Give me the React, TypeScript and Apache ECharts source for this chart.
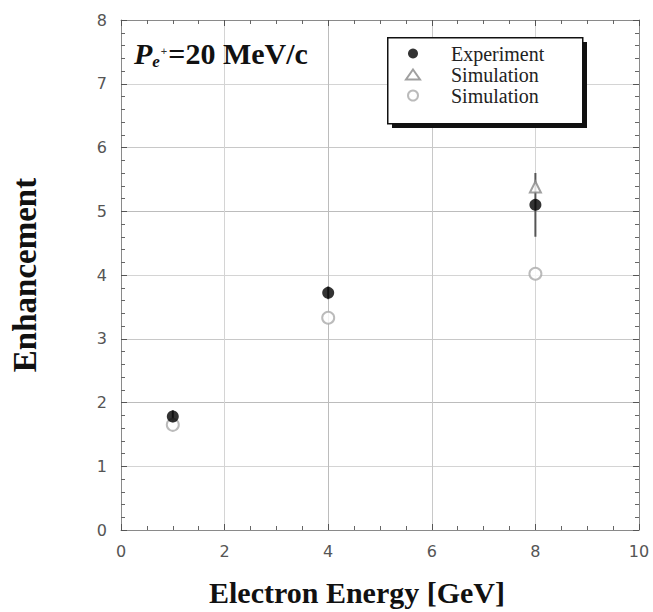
import React, { useEffect, useRef } from "react";
import * as echarts from "echarts";

const xTicks = [0, 2, 4, 6, 8, 10];
const energies = [1, 4, 8];
const experiment = [1.78, 3.72, 5.1];
const experimentErr = [0.1, 0.1, 0.5];
const triangleX = [8];
const triangleY = [5.38];
const circleSim = [1.65, 3.33, 4.02];

const SERIF = "'Liberation Serif', 'Times New Roman', serif";
const SANS = "'DejaVu Sans', Verdana, sans-serif";

export default function App() {
  const ref = useRef<HTMLDivElement>(null);
  useEffect(() => {
    if (!ref.current) return;
    const chart = echarts.init(ref.current, undefined, { renderer: "svg" });
    const errData = energies.map((x, i) => [x, experiment[i] - experimentErr[i], experiment[i] + experimentErr[i]]);
    const axisCommon = {
      type: "value" as const,
      axisLine: { show: true, onZero: false, lineStyle: { color: "#8a8a8a", width: 1 } },
      axisTick: { show: true, inside: true, length: 6, lineStyle: { color: "#555" } },
    };
    const xMinor = { show: true, splitNumber: 4, length: 4, lineStyle: { color: "#666" } };
    const yMinor = { show: true, splitNumber: 5, length: 4, lineStyle: { color: "#666" } };
    const splitStyle = { show: true, lineStyle: { color: ["#c8c8c8", "#d4d4d4", "#bcbcbc"], width: 1 } };
    chart.setOption({
      animation: false,
      backgroundColor: "#fff",
      grid: { left: 120, right: 14, top: 20, bottom: 74 },
      xAxis: [
        {
          ...axisCommon,
          minorTick: xMinor,
          min: 0,
          max: xTicks[xTicks.length - 1],
          interval: 2,
          position: "bottom",
          name: "Electron Energy [GeV]",
          nameLocation: "middle",
          nameGap: 47,
          nameTextStyle: { fontFamily: SERIF, fontWeight: "bold", fontSize: 30, color: "#111", padding: [0, 46, 0, 0] },
          axisLabel: { fontFamily: SANS, fontSize: 16, color: "#555", margin: 13 },
          splitLine: splitStyle,
        },
        {
          ...axisCommon,
          minorTick: xMinor,
          min: 0,
          max: 10,
          interval: 2,
          position: "top",
          axisLabel: { show: false },
          splitLine: { show: false },
        },
      ],
      yAxis: [
        {
          ...axisCommon,
          minorTick: yMinor,
          min: 0,
          max: 8,
          interval: 1,
          position: "left",
          name: "Enhancement",
          nameLocation: "middle",
          nameGap: 80,
          nameRotate: 90,
          nameTextStyle: { fontFamily: SERIF, fontWeight: "bold", fontSize: 33, color: "#111" },
          axisLabel: { fontFamily: SANS, fontSize: 16, color: "#555", margin: 14 },
          splitLine: splitStyle,
        },
        {
          ...axisCommon,
          minorTick: yMinor,
          min: 0,
          max: 8,
          interval: 1,
          position: "right",
          axisLabel: { show: false },
          splitLine: { show: false },
        },
      ],
      legend: {
        orient: "vertical",
        left: 400,
        top: 38,
        itemGap: 0,
        itemWidth: 14,
        itemHeight: 10,
        data: ["Experiment", "Simulation (triangle)", "Simulation (circle)"],
        formatter: (name: string) => (name.indexOf("Simulation") === 0 ? "Simulation" : name),
        textStyle: { fontFamily: SERIF, fontSize: 20, color: "#222", padding: [0, 0, 0, 26], lineHeight: 21 },
        z: 10,
      },
      graphic: [
        { type: "rect", left: 392, top: 42, shape: { width: 195, height: 86 }, style: { fill: "#111" }, z: 5 },
        { type: "rect", left: 387, top: 37, shape: { width: 195, height: 86 }, style: { fill: "#fff", stroke: "#111", lineWidth: 1.5 }, z: 6 },
        {
          type: "text",
          left: 134,
          top: 38,
          z: 6,
          style: {
            text: "{p|P}{sub|e}{sup|+}{n|=20 MeV/c}",
            rich: {
              p: { fontFamily: SERIF, fontWeight: "bold", fontStyle: "italic", fontSize: 30, fill: "#111", lineHeight: 34 },
              sub: { fontFamily: SERIF, fontWeight: "bold", fontStyle: "italic", fontSize: 17, fill: "#111", verticalAlign: "bottom", lineHeight: 34 },
              sup: { fontFamily: "'Liberation Sans', Arial, sans-serif", fontSize: 11, fill: "#333", verticalAlign: "middle", lineHeight: 34, padding: [0, 1, 4, 1] },
              n: { fontFamily: SERIF, fontWeight: "bold", fontSize: 30, fill: "#111", lineHeight: 34 },
            },
          },
        },
      ],
      series: [
        {
          type: "custom",
          name: "err",
          xAxisIndex: 0,
          yAxisIndex: 0,
          data: errData,
          z: 3,
          renderItem: (params: any, api: any) => {
            const x = api.value(0);
            const lo = api.coord([x, api.value(1)]);
            const hi = api.coord([x, api.value(2)]);
            return {
              type: "line",
              shape: { x1: lo[0], y1: lo[1], x2: hi[0], y2: hi[1] },
              style: { stroke: "#555", lineWidth: 2 },
            };
          },
        },
        {
          type: "scatter",
          name: "Simulation (circle)",
          data: energies.map((x, i) => [x, circleSim[i]]),
          symbol: "emptyCircle",
          symbolSize: 12,
          itemStyle: { color: "#aaa", borderWidth: 1.5 },
          z: 4,
        },
        {
          type: "scatter",
          name: "Simulation (triangle)",
          data: triangleX.map((x, i) => [x, triangleY[i]]),
          symbol: "emptyTriangle",
          symbolSize: 11,
          itemStyle: { color: "#888", borderWidth: 1.5 },
          z: 4,
        },
        {
          type: "scatter",
          name: "Experiment",
          data: energies.map((x, i) => [x, experiment[i]]),
          symbol: "circle",
          symbolSize: 12,
          itemStyle: { color: "#000" },
          z: 5,
        },
      ],
    });
    return () => chart.dispose();
  }, []);
  return <div ref={ref} style={{ position: "fixed", left: 0, top: 0, width: 653, height: 612 }} />;
}
